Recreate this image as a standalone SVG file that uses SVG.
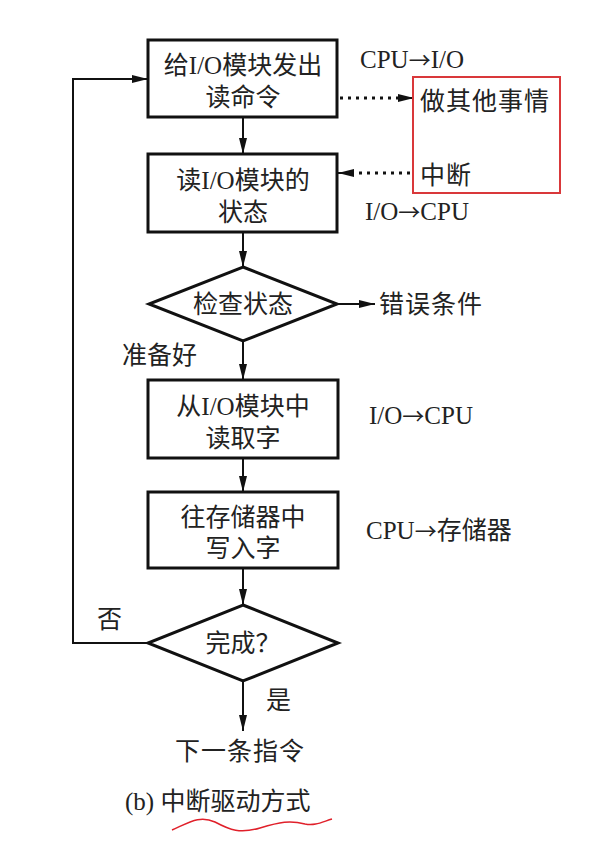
<svg xmlns="http://www.w3.org/2000/svg" width="609" height="851" viewBox="0 0 609 851">
<defs>
<style>
.box{fill:#fff;stroke:#111;stroke-width:3}
.ln{fill:none;stroke:#111;stroke-width:2}
.dot{fill:none;stroke:#111;stroke-width:3;stroke-dasharray:3 5}
text{font-family:"Liberation Serif","Noto Sans CJK SC",serif;font-size:25px;fill:#222}
.c{text-anchor:middle}
.ar{font-family:"Noto Sans CJK SC",sans-serif;font-size:22px}
</style>
<marker id="ah" viewBox="0 0 16 8" refX="16" refY="4" markerWidth="16" markerHeight="8" markerUnits="userSpaceOnUse" orient="auto">
<path d="M0,0 L16,4 L0,8 z" fill="#111"/>
</marker>
</defs>
<rect width="609" height="851" fill="#fff"/>
<g id="connectors">
<line class="ln" x1="243" y1="117" x2="243" y2="154" marker-end="url(#ah)"/>
<line class="ln" x1="243" y1="232" x2="243" y2="267" marker-end="url(#ah)"/>
<line class="ln" x1="243" y1="341" x2="243" y2="380" marker-end="url(#ah)"/>
<line class="ln" x1="243" y1="458" x2="243" y2="492" marker-end="url(#ah)"/>
<line class="ln" x1="243" y1="568" x2="243" y2="605" marker-end="url(#ah)"/>
<line class="ln" x1="243" y1="681" x2="243" y2="731" marker-end="url(#ah)"/>
<line class="ln" x1="337" y1="304" x2="375" y2="304" marker-end="url(#ah)"/>
<polyline class="ln" points="148,643 73,643 73,79 148,79" marker-end="url(#ah)"/>
<line class="dot" x1="340" y1="98" x2="400" y2="98"/>
<line class="ln" x1="398" y1="98" x2="414" y2="98" marker-end="url(#ah)"/>
<line class="dot" x1="410" y1="173" x2="352" y2="173"/>
<line class="ln" x1="354" y1="173" x2="338" y2="173" marker-end="url(#ah)"/>
</g>
<g id="n1">
<rect class="box" x="148" y="40" width="189" height="77"/>
<text class="c" x="243" y="74">给I/O模块发出</text>
<text class="c" x="243" y="106">读命令</text>
</g>
<g id="n2">
<rect class="box" x="148" y="154" width="189" height="78"/>
<text class="c" x="243" y="189">读I/O模块的</text>
<text class="c" x="243" y="221">状态</text>
</g>
<g id="n3">
<polygon class="box" points="243,267 337,304 243,341 149,304"/>
<text class="c" x="243" y="313">检查状态</text>
</g>
<g id="n4">
<rect class="box" x="148" y="380" width="190" height="78"/>
<text class="c" x="243" y="415">从I/O模块中</text>
<text class="c" x="243" y="447">读取字</text>
</g>
<g id="n5">
<rect class="box" x="148" y="492" width="190" height="76"/>
<text class="c" x="243" y="526">往存储器中</text>
<text class="c" x="243" y="557">写入字</text>
</g>
<g id="n6">
<polygon class="box" points="243,605 338,643 243,681 148,643"/>
<text class="c" x="243" y="652">完成？</text>
</g>
<g id="side">
<rect x="413" y="77" width="147" height="116" fill="none" stroke="#d9383a" stroke-width="2"/>
<text x="420" y="110" letter-spacing="1">做其他事情</text>
<text x="420" y="184" letter-spacing="1">中断</text>
<text x="360" y="68">CPU<tspan class="ar">→</tspan>I/O</text>
<text x="365" y="220">I/O<tspan class="ar">→</tspan>CPU</text>
<text x="379" y="313" letter-spacing="1">错误条件</text>
<text x="122" y="364">准备好</text>
<text x="369" y="424">I/O<tspan class="ar">→</tspan>CPU</text>
<text x="366" y="539">CPU<tspan class="ar">→</tspan>存储器</text>
<text x="97" y="628">否</text>
<text x="266" y="709">是</text>
<text class="c" x="240" y="760" letter-spacing="1">下一条指令</text>
<text x="125" y="810">(b) 中断驱动方式</text>
<path d="M172,830 C190,822 200,815 215,822 C230,830 240,834 260,828 C280,822 290,820 305,824 C315,826 322,822 332,819" fill="none" stroke="#e0202a" stroke-width="1.5"/>
</g>
</svg>
